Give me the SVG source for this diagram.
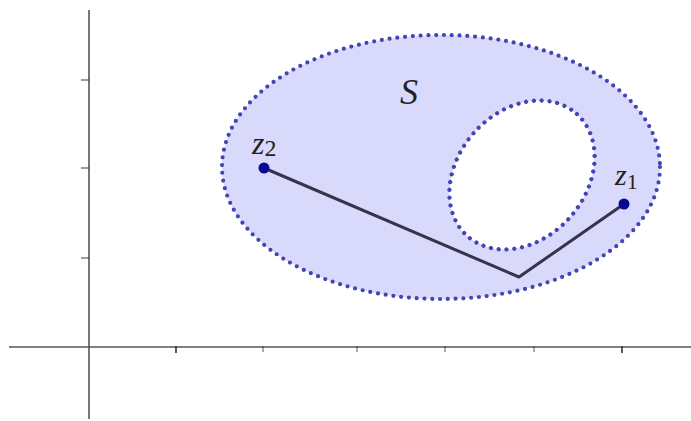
<svg xmlns="http://www.w3.org/2000/svg" width="691" height="421" viewBox="0 0 691 421">
<style>
.axis{stroke:#555;stroke-width:1.6;fill:none}
.tick{stroke:#333;stroke-width:1.6}
.dot{stroke:#4444b4;stroke-width:4.2;stroke-linecap:round;stroke-dasharray:0 7.8}
.path{stroke:#34344a;stroke-width:3;fill:none;stroke-linejoin:round}
.pt{fill:#0a0a90}
.lbl{font-family:"Liberation Serif",serif;font-style:italic;fill:#222}
</style>
<rect width="691" height="421" fill="#fff"/>
<g id="axes">
<line class="axis" x1="9" y1="347" x2="691" y2="347"/>
<line class="axis" x1="89" y1="10" x2="89" y2="419"/>
<line class="tick" x1="176" y1="346" x2="176" y2="353"/>
<line class="tick" x1="263" y1="346" x2="263" y2="352" stroke-opacity="0.5"/>
<line class="tick" x1="357" y1="346" x2="357" y2="352" stroke-opacity="0.5"/>
<line class="tick" x1="445" y1="346" x2="445" y2="352" stroke-opacity="0.5"/>
<line class="tick" x1="534" y1="346" x2="534" y2="352" stroke-opacity="0.5"/>
<line class="tick" x1="622" y1="346" x2="622" y2="353"/>
<line class="tick" x1="81" y1="80" x2="89" y2="80" stroke-opacity="0.6"/>
<line class="tick" x1="81" y1="168" x2="89" y2="168" stroke-opacity="0.6"/>
<line class="tick" x1="81" y1="258" x2="89" y2="258" stroke-opacity="0.6"/>
</g>
<g id="S">
<ellipse cx="441" cy="167" rx="219" ry="132" fill="#d9d9fb"/>
<ellipse class="dot" cx="441" cy="167" rx="219" ry="132" fill="none"/>
<text class="lbl" x="400" y="104" font-size="36">S</text>
</g>
<g id="hole">
<ellipse cx="522" cy="175" rx="82" ry="64" transform="rotate(-48 522 175)" fill="#fff"/>
<ellipse class="dot" cx="522" cy="175" rx="82" ry="64" transform="rotate(-48 522 175)" fill="none"/>
</g>
<g id="connectors">
<polyline class="path" points="264,168 519,277 624,204"/>
</g>
<g id="z2">
<circle class="pt" cx="264" cy="168" r="5.5"/>
<text class="lbl" x="252" y="154" font-size="32">z<tspan font-size="24" font-style="normal" dy="2">2</tspan></text>
</g>
<g id="z1">
<circle class="pt" cx="624" cy="204" r="5.5"/>
<text class="lbl" x="615" y="185" font-size="30">z<tspan font-size="22" font-style="normal" dy="4">1</tspan></text>
</g>
</svg>
